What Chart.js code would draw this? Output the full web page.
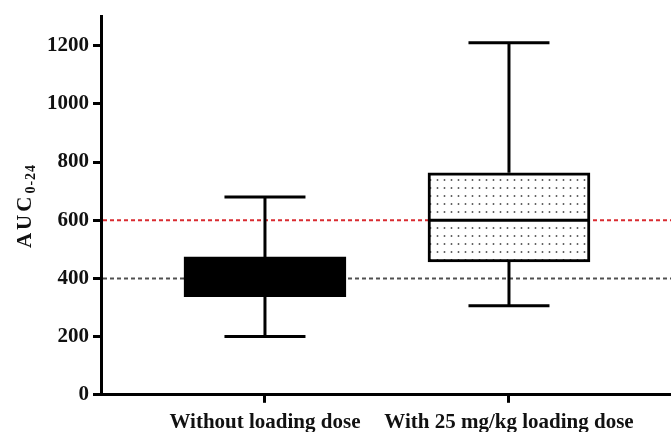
<!DOCTYPE html>
<html>
<head>
<meta charset="utf-8">
<script src="https://cdn.jsdelivr.net/npm/chart.js@4.4.0/dist/chart.umd.min.js"></script>
<style>
  html, body { margin: 0; padding: 0; background: #fff; }
  #wrap { width: 671px; height: 432px; }
</style>
</head>
<body>
<div id="wrap"><canvas id="chart"></canvas></div>
<script>
const groups = ['Without loading dose', 'With 25 mg/kg loading dose'];
const whiskerMin = [200, 306];
const boxLow = [337, 457];
const medians = [400, 600];
const boxHigh = [474, 763];
const whiskerMax = [680, 1210];
const yTicks = [0, 200, 400, 600, 800, 1000, 1200];
const refLines = [
    { value: 600, color: '#d92b30' },
    { value: 400, color: '#505050' }
];

const FONT = "'Liberation Serif', 'Times New Roman', serif";

// dotted fill for the second box
function dotPattern() {
    const c = document.createElement('canvas');
    c.width = 7;
    c.height = 8;
    const g = c.getContext('2d');
    g.fillStyle = '#fff';
    g.fillRect(0, 0, 7, 8);
    g.fillStyle = '#555';
    g.beginPath();
    g.arc(3.5, 4, 0.95, 0, Math.PI * 2);
    g.fill();
    return g.createPattern(c, 'repeat');
}

const refLinePlugin = {
    id: 'refLines',
    beforeDatasetsDraw: (chart) => {
        const { ctx, chartArea, scales } = chart;
        ctx.save();
        ctx.lineWidth = 2;
        ctx.setLineDash([4, 3]);
        refLines.forEach(r => {
            const y = scales.y.getPixelForValue(r.value);
            ctx.strokeStyle = r.color;
            ctx.beginPath();
            ctx.moveTo(chartArea.left + 2, y);
            ctx.lineTo(chartArea.right, y);
            ctx.stroke();
        });
        ctx.restore();
    }
};

const whiskerPlugin = {
    id: 'whiskers',
    afterDatasetsDraw: (chart) => {
        const { ctx, scales } = chart;
        const meta = chart.getDatasetMeta(0);
        ctx.save();
        ctx.strokeStyle = '#000';
        ctx.lineWidth = 3;
        ctx.lineCap = 'butt';
        meta.data.forEach((bar, i) => {
            const x = bar.x;
            const half = bar.width / 2;
            const cap = bar.width / 4;
            const yMin = scales.y.getPixelForValue(whiskerMin[i]);
            const yMax = scales.y.getPixelForValue(whiskerMax[i]);
            const yLo = scales.y.getPixelForValue(boxLow[i]);
            const yHi = scales.y.getPixelForValue(boxHigh[i]);
            const yMed = scales.y.getPixelForValue(medians[i]);
            ctx.beginPath();
            ctx.moveTo(x, yHi); ctx.lineTo(x, yMax);
            ctx.moveTo(x - cap, yMax); ctx.lineTo(x + cap, yMax);
            ctx.moveTo(x, yLo); ctx.lineTo(x, yMin);
            ctx.moveTo(x - cap, yMin); ctx.lineTo(x + cap, yMin);
            ctx.moveTo(x - half, yMed); ctx.lineTo(x + half, yMed);
            ctx.stroke();
        });
        ctx.restore();
    }
};

// rotated "AUC" with subscript "0-24", letter-spaced like the original
const yTitlePlugin = {
    id: 'yTitle',
    afterDraw: (chart) => {
        const { ctx } = chart;
        const parts = [
            { text: 'AUC', size: 21, shift: 0, gap: 3 },
            { text: '0-24', size: 14, shift: 4, gap: 1 }
        ];
        let total = 0;
        parts.forEach(p => {
            ctx.font = 'bold ' + p.size + 'px ' + FONT;
            for (const ch of p.text) total += ctx.measureText(ch).width + p.gap;
        });
        ctx.save();
        ctx.translate(31, 206);
        ctx.rotate(-Math.PI / 2);
        ctx.fillStyle = '#111';
        ctx.textBaseline = 'alphabetic';
        let x = -total / 2;
        parts.forEach(p => {
            ctx.font = 'bold ' + p.size + 'px ' + FONT;
            for (const ch of p.text) {
                ctx.fillText(ch, x, p.shift);
                x += ctx.measureText(ch).width + p.gap;
            }
        });
        ctx.restore();
    }
};

new Chart(document.getElementById('chart'), {
    type: 'bar',
    data: {
        datasets: [
            {
                data: groups.map((g, i) => ({ x: i + 1, y: [boxLow[i], boxHigh[i]] })),
                backgroundColor: ['#000', dotPattern()],
                borderColor: '#000',
                borderWidth: 3,
                borderSkipped: false,
                barThickness: 162
            }
        ]
    },
    options: {
        responsive: true,
        maintainAspectRatio: false,
        animation: false,
        layout: { padding: { top: 15, left: 43, right: 0, bottom: -10 } },
        plugins: {
            legend: { display: false },
            tooltip: { enabled: false }
        },
        scales: {
            x: {
                type: 'linear',
                offset: false,
                min: 0.328,
                max: 2.664,
                afterBuildTicks: (scale) => {
                    scale.ticks = groups.map((g, i) => ({ value: i + 1 }));
                },
                ticks: {
                    color: '#111',
                    font: { family: FONT, size: 21, weight: 'bold' },
                    padding: 7,
                    maxRotation: 0,
                    autoSkip: false,
                    callback: (v) => groups[v - 1]
                },
                grid: {
                    offset: false,
                    drawOnChartArea: false,
                    drawTicks: true,
                    tickLength: 8,
                    lineWidth: 3,
                    color: '#000'
                },
                border: { display: true, width: 3, color: '#000' }
            },
            y: {
                min: 0,
                max: 1300,
                afterBuildTicks: (scale) => {
                    scale.ticks = yTicks.map(v => ({ value: v }));
                },
                ticks: {
                    color: '#111',
                    font: { family: FONT, size: 21, weight: 'bold' },
                    padding: 4,
                    callback: (v) => String(v)
                },
                grid: {
                    drawOnChartArea: false,
                    drawTicks: true,
                    tickLength: 8,
                    lineWidth: 3,
                    color: '#000'
                },
                border: { display: true, width: 3, color: '#000' }
            }
        }
    },
    plugins: [refLinePlugin, whiskerPlugin, yTitlePlugin]
});
</script>
</body>
</html>
